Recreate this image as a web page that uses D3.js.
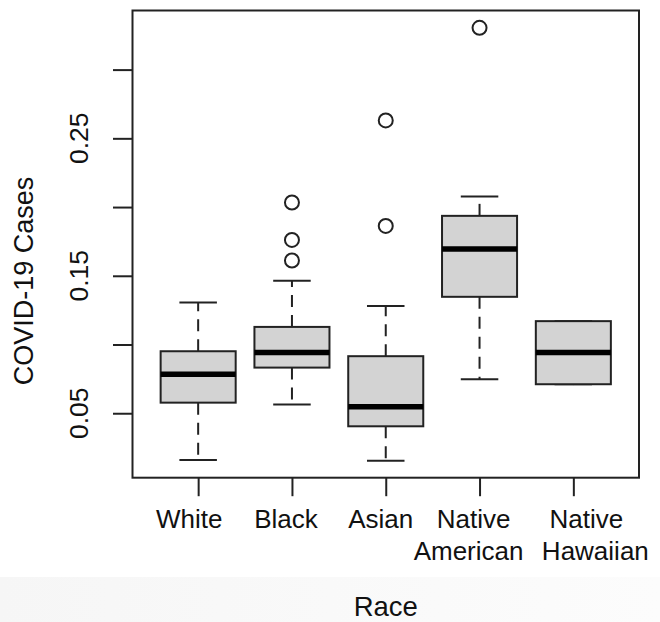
<!DOCTYPE html>
<meta charset="utf-8">
<style>
body { margin: 0; background: #fff; }
text { font-family: "Liberation Sans", Arial, Helvetica, sans-serif; fill: #111; }
</style>
<body>
<svg width="660" height="622"></svg>
<script src="https://cdn.jsdelivr.net/npm/d3@7"></script>
<script>

// boxplot stats
var categories = [["White"], ["Black"], ["Asian"], ["Native", "American"], ["Native", "Hawaiian"]];
var lowerWhisker = [0.0160, 0.0563, 0.0155, 0.0747, 0.0711];
var q1 = [0.0577, 0.0832, 0.0405, 0.1347, 0.0711];
var median = [0.0784, 0.0941, 0.0548, 0.1694, 0.0941];
var q3 = [0.0951, 0.1128, 0.0915, 0.1936, 0.1170];
var upperWhisker = [0.1305, 0.1463, 0.1281, 0.2076, 0.1170];
var outliers = [[], [0.1611, 0.1761, 0.2033], [0.1863, 0.2630], [0.3304], []];

var yTicks = [0.05, 0.10, 0.15, 0.20, 0.25, 0.30];
var yTickLabels = ["0.05", "", "0.15", "", "0.25", ""];

var xTitle = "Race";
var yTitle = "COVID-19 Cases";

var svg = d3.select("svg");

var plotLeft = 132.5, plotRight = 639, plotTop = 10.5, plotBottom = 477.7;

var x = d3.scaleLinear()
	.domain([0.3, 5.7])
	.range([plotLeft, plotRight]);

var y = d3.scaleLinear()
	.domain([0.0031, 0.343])
	.range([plotBottom, plotTop]);

var boxW = x(1.4) - x(1);
var capW = x(1.2) - x(1);

// the tick labels in the original sit a little off their ticks
var labelShift = [[-9], [-6], [-5], [-6, -11], [13, 22]];

// faint grey band at the bottom of the original image
var grad = svg.append("defs").append("linearGradient").attr("id", "band");
grad.append("stop").attr("offset", "0%").attr("stop-color", "#f6f6f6");
grad.append("stop").attr("offset", "100%").attr("stop-color", "#fcfcfc");
svg.append("rect")
	.attr("x", 0).attr("y", 577)
	.attr("width", 660).attr("height", 45)
	.attr("fill", "url(#band)");

var data = categories.map(function(c, i) {
	return {
		pos: i + 1,
		label: c,
		lo: lowerWhisker[i], q1: q1[i], med: median[i], q3: q3[i], hi: upperWhisker[i],
		out: outliers[i]
	};
});

var g = svg.selectAll(".box")
	.data(data)
	.enter().append("g")
	.attr("class", "box");

// whiskers (dashed)
g.append("line")
	.attr("x1", function(d){ return x(d.pos); })
	.attr("x2", function(d){ return x(d.pos); })
	.attr("y1", function(d){ return y(d.q3); })
	.attr("y2", function(d){ return y(d.hi); })
	.style("stroke", "#222").style("stroke-width", 2).style("stroke-dasharray", "12,8");
g.append("line")
	.attr("x1", function(d){ return x(d.pos); })
	.attr("x2", function(d){ return x(d.pos); })
	.attr("y1", function(d){ return y(d.q1); })
	.attr("y2", function(d){ return y(d.lo); })
	.style("stroke", "#222").style("stroke-width", 2).style("stroke-dasharray", "12,8");

// staples
g.append("line")
	.attr("x1", function(d){ return x(d.pos) - capW; })
	.attr("x2", function(d){ return x(d.pos) + capW; })
	.attr("y1", function(d){ return y(d.hi); })
	.attr("y2", function(d){ return y(d.hi); })
	.style("stroke", "#222").style("stroke-width", 2);
g.append("line")
	.attr("x1", function(d){ return x(d.pos) - capW; })
	.attr("x2", function(d){ return x(d.pos) + capW; })
	.attr("y1", function(d){ return y(d.lo); })
	.attr("y2", function(d){ return y(d.lo); })
	.style("stroke", "#222").style("stroke-width", 2);

// box
g.append("rect")
	.attr("x", function(d){ return x(d.pos) - boxW; })
	.attr("width", 2 * boxW)
	.attr("y", function(d){ return y(d.q3); })
	.attr("height", function(d){ return y(d.q1) - y(d.q3); })
	.style("fill", "#d3d3d3")
	.style("stroke", "#222").style("stroke-width", 2);

// median
g.append("line")
	.attr("x1", function(d){ return x(d.pos) - boxW; })
	.attr("x2", function(d){ return x(d.pos) + boxW; })
	.attr("y1", function(d){ return y(d.med); })
	.attr("y2", function(d){ return y(d.med); })
	.style("stroke", "#000").style("stroke-width", 5.5);

// outliers
g.selectAll("circle")
	.data(function(d){ return d.out.map(function(v){ return {pos: d.pos, v: v}; }); })
	.enter().append("circle")
	.attr("cx", function(d){ return x(d.pos); })
	.attr("cy", function(d){ return y(d.v); })
	.attr("r", 7)
	.style("fill", "none")
	.style("stroke", "#222").style("stroke-width", 2);

// plot frame
svg.append("rect")
	.attr("x", plotLeft).attr("y", plotTop)
	.attr("width", plotRight - plotLeft).attr("height", plotBottom - plotTop)
	.style("fill", "none")
	.style("stroke", "#222").style("stroke-width", 2);

// y axis
var yAxis = svg.append("g")
	.attr("transform", "translate(" + plotLeft + ",0)")
	.call(d3.axisLeft(y)
		.tickValues(yTicks)
		.tickSize(19.5)
		.tickFormat(""));
yAxis.select(".domain").remove();
yAxis.selectAll(".tick line").style("stroke", "#222").style("stroke-width", 2);

svg.selectAll(".ylab")
	.data(yTicks)
	.enter().append("text")
	.attr("class", "ylab")
	.attr("transform", function(d){ return "translate(88," + y(d) + ") rotate(-90)"; })
	.attr("text-anchor", "middle")
	.style("font-size", "26.5px")
	.text(function(d, i){ return yTickLabels[i]; });

// x axis
var xAxis = svg.append("g")
	.attr("transform", "translate(0," + plotBottom + ")")
	.call(d3.axisBottom(x)
		.tickValues(data.map(function(d){ return d.pos; }))
		.tickSize(18.5)
		.tickFormat(""));
xAxis.select(".domain").remove();
xAxis.selectAll(".tick line").style("stroke", "#222").style("stroke-width", 2);

var xl = svg.selectAll(".xlab")
	.data(data)
	.enter().append("text")
	.attr("class", "xlab")
	.attr("text-anchor", "middle")
	.style("font-size", "26px");
xl.selectAll("tspan")
	.data(function(d, k){ return d.label.map(function(s, j){ return {pos: d.pos, s: s, dx: labelShift[k][j]}; }); })
	.enter().append("tspan")
	.attr("x", function(d){ return x(d.pos) + d.dx; })
	.attr("y", function(d, i){ return 527.5 + i * 32.5; })
	.text(function(d){ return d.s; });

// axis titles
svg.append("text")
	.attr("x", (plotLeft + plotRight) / 2)
	.attr("y", 616)
	.attr("text-anchor", "middle")
	.style("font-size", "27.5px")
	.text(xTitle);

svg.append("text")
	.attr("transform", "translate(33," + 281 + ") rotate(-90)")
	.attr("text-anchor", "middle")
	.style("font-size", "27px")
	.text(yTitle);

</script>
</body>
